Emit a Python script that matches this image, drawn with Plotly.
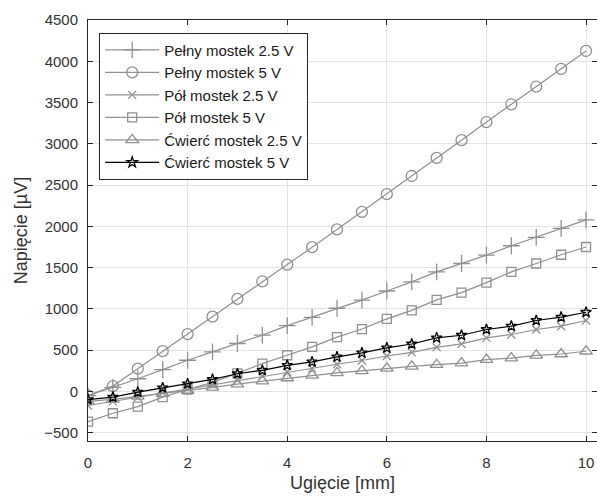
import plotly.graph_objects as go

x = [0, 0.5, 1, 1.5, 2, 2.5, 3, 3.5, 4, 4.5, 5, 5.5, 6, 6.5, 7, 7.5, 8, 8.5, 9, 9.5, 10]

pelny_25 = [-50, 50, 154, 264, 378, 480, 581, 683, 797, 898, 1008, 1106, 1217, 1327, 1449, 1550, 1652, 1765, 1867, 1976, 2078]
pelny_5 = [-49, 65, 276, 488, 695, 906, 1122, 1333, 1537, 1748, 1963, 2175, 2390, 2610, 2829, 3044, 3264, 3479, 3694, 3909, 4125]
pol_25 = [-170, -120, -70, -15, 35, 85, 135, 185, 235, 280, 330, 375, 430, 474, 535, 576, 649, 690, 751, 791, 860]
pol_5 = [-366, -264, -183, -69, 24, 110, 220, 337, 439, 540, 659, 756, 880, 982, 1110, 1197, 1319, 1449, 1550, 1656, 1750]
cwierc_25 = [-120, -95, -60, -25, 12, 50, 90, 125, 163, 195, 225, 250, 280, 304, 324, 344, 385, 405, 438, 454, 487]
cwierc_5 = [-98, -69, -8, 45, 93, 146, 215, 256, 317, 358, 419, 467, 528, 575, 649, 681, 751, 791, 860, 901, 960]

names = ["Pełny mostek 2.5 V", "Pełny mostek 5 V", "Pół mostek 2.5 V",
         "Pół mostek 5 V", "Ćwierć mostek 2.5 V", "Ćwierć mostek 5 V"]
series = [pelny_25, pelny_5, pol_25, pol_5, cwierc_25, cwierc_5]
symbols = ["cross-thin-open", "circle-open", "x-thin-open", "square-open", "triangle-up-open", "star-open"]
sizes = [12, 11, 8, 9, 11, 8]
colors = ["#909090"] * 5 + ["#000000"]

FONT = "Liberation Sans, Arial"
TXT = "#333333"

fig = go.Figure()
for i, (n, s, sym, sz, c) in enumerate(zip(names, series, symbols, sizes, colors)):
    fig.add_trace(go.Scatter(
        x=x, y=s, name=n, mode="lines+markers", legendgroup=f"g{i}",
        line=dict(color=c, width=1.2),
        marker=dict(symbol=sym, size=sz, color=c, line=dict(color=c, width=1.3)),
    ))

axis_common = dict(
    showline=True, linecolor="#262626", linewidth=1, mirror="ticks",
    ticks="inside", ticklen=5, tickcolor="#262626",
    showgrid=True, gridcolor="#e3e3e3", gridwidth=1, zeroline=False,
    tickfont=dict(family=FONT, size=15, color=TXT),
)

fig.update_layout(
    width=597, height=497,
    margin=dict(l=88, r=0, t=20, b=56),
    plot_bgcolor="white", paper_bgcolor="white",
    xaxis=dict(range=[0, 10.22], tickvals=[0, 2, 4, 6, 8, 10], ticklabelstandoff=8,
               title=dict(text="Ugięcie [mm]", font=dict(family=FONT, size=18, color=TXT), standoff=6),
               **axis_common),
    yaxis=dict(range=[-600, 4500], tickvals=[-500, 0, 500, 1000, 1500, 2000, 2500, 3000, 3500, 4000, 4500],
               ticklabelstandoff=6,
               title=dict(text="Napięcie [µV]", font=dict(family=FONT, size=18, color=TXT), standoff=11),
               **axis_common),
    legend=dict(x=0.022, y=0.97, xanchor="left", yanchor="top",
                bgcolor="white", bordercolor="#262626", borderwidth=1,
                font=dict(family=FONT, size=15, color="#1a1a1a"),
                tracegroupgap=0, itemwidth=54),
    showlegend=True,
)

fig.write_html("out.html", post_script="document.body.style.margin='0';",
               config={"displayModeBar": False})
